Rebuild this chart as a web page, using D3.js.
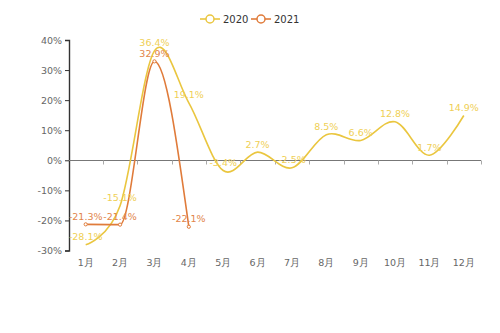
<!DOCTYPE html>
<html><head><meta charset="utf-8">
<script src="https://cdn.jsdelivr.net/npm/d3@7/dist/d3.min.js"></script>
<style>html,body{margin:0;padding:0;background:#fff;}svg{display:block;font-family:"DejaVu Sans",sans-serif;}</style>
</head><body>
<svg id="c" width="500" height="333"></svg>
<script>
const months = ["1月","2月","3月","4月","5月","6月","7月","8月","9月","10月","11月","12月"];
const values2020 = [-28.1,-15.1,36.4,19.1,-3.4,2.7,-2.5,8.5,6.6,12.8,1.7,14.9];
const values2021 = [-21.3,-21.4,32.9,-22.1];
const yTicks = [-30,-20,-10,0,10,20,30,40];
const seriesNames = ["2020","2021"];
const colors = ["#eac63f","#e07b3a"];
const labelColors = ["#efcf55","#e2854a"];

const svg = d3.select("#c");
const x = d3.scaleBand().domain(months).range([68.5,481]);
const y = d3.scaleLinear().domain([-30,40]).range([250.5,40]);

// y axis
const ya = svg.append("g").attr("transform","translate(69,0)")
  .call(d3.axisLeft(y).tickValues(yTicks).tickFormat(d=>d+"%").tickSizeOuter(0).tickSize(4));
ya.select(".domain").attr("stroke","#333").attr("stroke-width",1.4);
ya.selectAll(".tick line").attr("stroke","#333");
ya.selectAll(".tick text").attr("fill","#666").attr("font-size","9.5px").attr("font-family","DejaVu Sans");

// zero line with ticks at band boundaries
const zy = Math.round(y(0))+0.5;
svg.append("line").attr("x1",69).attr("x2",481).attr("y1",zy).attr("y2",zy).attr("stroke","#777").attr("stroke-width",1);
const bounds = months.map(m=>x(m)).concat([x.range()[1]]);
svg.selectAll(".xt").data(bounds.slice(1)).join("line")
  .attr("x1",d=>Math.round(d)+0.5).attr("x2",d=>Math.round(d)+0.5)
  .attr("y1",zy).attr("y2",zy+4).attr("stroke","#aaa");

// x labels at bottom
svg.selectAll(".xl").data(months).join("text")
  .attr("x",d=>x(d)+x.bandwidth()/2).attr("y",266)
  .attr("text-anchor","middle").attr("fill","#666").attr("font-size","9.5px").text(d=>d);

const px = (d,i)=>x(months[i])+x.bandwidth()/2;
const line2020 = d3.line().x(px).y(d=>y(d)).curve(d3.curveCardinal.tension(0));
const line2021 = d3.line().x(px).y(d=>y(d)).curve(d3.curveMonotoneX);
svg.append("path").datum(values2020).attr("d",line2020).attr("fill","none")
  .attr("stroke",colors[0]).attr("stroke-width",1.6);
svg.append("path").datum(values2021).attr("d",line2021).attr("fill","none")
  .attr("stroke",colors[1]).attr("stroke-width",1.6);

// small markers for 2021
svg.selectAll(".m21").data(values2021).join("circle")
  .attr("cx",px).attr("cy",d=>y(d)).attr("r",1.6)
  .attr("fill","#fff").attr("stroke",colors[1]).attr("stroke-width",1);

[values2020, values2021].forEach((vals,s)=>{
  svg.selectAll(".lab"+s).data(vals).join("text")
    .attr("x",px).attr("y",d=>y(d)-4.5)
    .attr("text-anchor","middle").attr("fill",labelColors[s]).attr("font-size","9.5px")
    .text(d=>d.toFixed(1)+"%");
});

// legend
const legX = [200,251];
seriesNames.forEach((n,i)=>{
  const g = svg.append("g").attr("transform",`translate(${legX[i]},19)`);
  g.append("line").attr("x1",0).attr("x2",20).attr("y1",0).attr("y2",0).attr("stroke",colors[i]).attr("stroke-width",1.6);
  g.append("circle").attr("cx",10).attr("cy",0).attr("r",4).attr("fill","#fff").attr("stroke",colors[i]).attr("stroke-width",1.5);
  g.append("text").attr("x",23).attr("y",3.5).attr("fill","#333").attr("font-size","10px").text(n);
});
</script>
</body></html>
